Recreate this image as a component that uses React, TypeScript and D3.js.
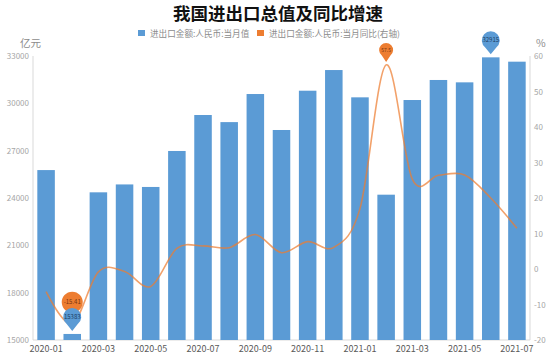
import React from "react";
import * as d3 from "d3";

const categories = [
  "2020-01","2020-02","2020-03","2020-04","2020-05","2020-06","2020-07","2020-08","2020-09","2020-10",
  "2020-11","2020-12","2021-01","2021-02","2021-03","2021-04","2021-05","2021-06","2021-07",
];
const monthlyValue = [
  25770, 15383, 24360, 24860, 24700, 26980, 29260, 28810, 30590, 28310,
  30800, 32110, 30380, 24210, 30210, 31480, 31330, 32915, 32640,
];
const yoyGrowth = [
  -6.4, -15.41, -0.8, -0.7, -4.9, 5.8, 6.5, 6.0, 9.7, 4.6,
  7.7, 6.1, 17, 57.5, 25.3, 26.4, 26.5, 20.0, 11.5,
];
const leftTicks = [15000, 18000, 21000, 24000, 27000, 30000, 33000];
const rightTicks = [-20, -10, 0, 10, 20, 30, 40, 50, 60];
const title = "我国进出口总值及同比增速";
const seriesNames = ["进出口金额:人民币:当月值", "进出口金额:人民币:当月同比(右轴)"];
const leftUnit = "亿元";
const rightUnit = "%";

const W = 556, H = 356;
const L = 33, R = 530, T = 56, B = 340;
const BLUE = "#5B9BD5";
const ORANGE = "#ED7D31";
const FONT = "'Noto Sans CJK SC', 'Noto Sans', sans-serif";

function pinPath(cx: number, cy: number, r: number, tipY: number) {
  const a = (38 * Math.PI) / 180;
  const x1 = cx - r * Math.sin(a), y1 = cy + r * Math.cos(a);
  const x2 = cx + r * Math.sin(a);
  return `M${cx},${tipY} L${x1},${y1} A${r},${r} 0 1 1 ${x2},${y1} Z`;
}

export default function App() {
  const x = d3.scaleBand<string>().domain(categories).range([L, R]).paddingInner(0.33).paddingOuter(0.165);
  const yL = d3.scaleLinear().domain([15000, 33000]).range([B, T]);
  const yR = d3.scaleLinear().domain([-20, 60]).range([B, T]);
  const cx = (c: string) => (x(c) as number) + x.bandwidth() / 2;

  const line = d3
    .line<number>()
    .x((_, i) => cx(categories[i]))
    .y((d) => yR(d))
    .curve(d3.curveCardinal.tension(0));

  const minIdx = yoyGrowth.indexOf(d3.min(yoyGrowth) as number);
  const maxIdx = yoyGrowth.indexOf(d3.max(yoyGrowth) as number);
  const maxBarIdx = monthlyValue.indexOf(d3.max(monthlyValue) as number);
  const minBarIdx = monthlyValue.indexOf(d3.min(monthlyValue) as number);

  const pins = [
    { i: minIdx, y: yR(yoyGrowth[minIdx]) - 3, r: 10.5, color: ORANGE, text: String(yoyGrowth[minIdx]), tc: "#7a3510" },
    { i: maxIdx, y: yR(yoyGrowth[maxIdx]), r: 7, color: ORANGE, text: String(yoyGrowth[maxIdx]), tc: "#7a3510" },
    { i: minBarIdx, y: yL(monthlyValue[minBarIdx]), r: 9, color: BLUE, text: String(monthlyValue[minBarIdx]), tc: "#1d3f66" },
    { i: maxBarIdx, y: yL(monthlyValue[maxBarIdx]), r: 9, color: BLUE, text: String(monthlyValue[maxBarIdx]), tc: "#1d3f66" },
  ];

  return (
    <svg width={W} height={H} style={{ position: "absolute", left: 0, top: 0, background: "#fff" }} fontFamily={FONT}>
      <text x={278} y={20} textAnchor="middle" fontSize={17.5} fontWeight={700} fill="#111">{title}</text>
      {/* legend */}
      <rect x={138} y={30} width={7} height={6} fill={BLUE} />
      <text x={150} y={36.5} fontSize={8.6} fill="#8c8c8c">{seriesNames[0]}</text>
      <rect x={257} y={30} width={7} height={6} fill={ORANGE} />
      <text x={269} y={36.5} fontSize={8.6} fill="#8c8c8c">{seriesNames[1]}</text>
      <text x={20} y={47} fontSize={10.5} fill="#8c8c8c">{leftUnit}</text>
      <text x={536} y={47} fontSize={10.5} fill="#8c8c8c">{rightUnit}</text>

      {/* axes */}
      <line x1={L} x2={L} y1={T} y2={B} stroke="#d9d9d9" />
      <line x1={R} x2={R} y1={T} y2={B} stroke="#d9d9d9" />
      <line x1={L} x2={R} y1={B} y2={B} stroke="#d9d9d9" />
      {leftTicks.map((t) => (
        <text key={t} x={29} y={yL(t) + 3} textAnchor="end" fontSize={8} fill="#a6a6a6">{t}</text>
      ))}
      {rightTicks.map((t) => (
        <text key={t} x={534} y={yR(t) + 3} fontSize={8} fill="#a6a6a6">{t}</text>
      ))}
      {categories.map((c, i) =>
        i % 2 === 0 ? (
          <text key={c} x={cx(c)} y={352} textAnchor="middle" fontSize={9} fill="#595959">{c}</text>
        ) : null
      )}

      {/* bars */}
      {monthlyValue.map((v, i) => (
        <rect key={i} x={x(categories[i])} y={yL(v)} width={x.bandwidth()} height={B - yL(v)} fill={BLUE} />
      ))}

      {/* line */}
      <path d={line(yoyGrowth) || ""} fill="none" stroke={ORANGE} strokeWidth={1.6} strokeOpacity={0.72} />

      {/* callout pins */}
      {pins.map((p, k) => {
        const px = cx(categories[p.i]);
        const tip = p.y - 3;
        const ccy = tip - p.r - 5;
        return (
          <g key={k}>
            <path d={pinPath(px, ccy, p.r, tip)} fill={p.color} />
            <text x={px} y={ccy + 2} textAnchor="middle" fontSize={p.r > 8 ? 6 : 5} fill={p.tc}>{p.text}</text>
          </g>
        );
      })}
    </svg>
  );
}
